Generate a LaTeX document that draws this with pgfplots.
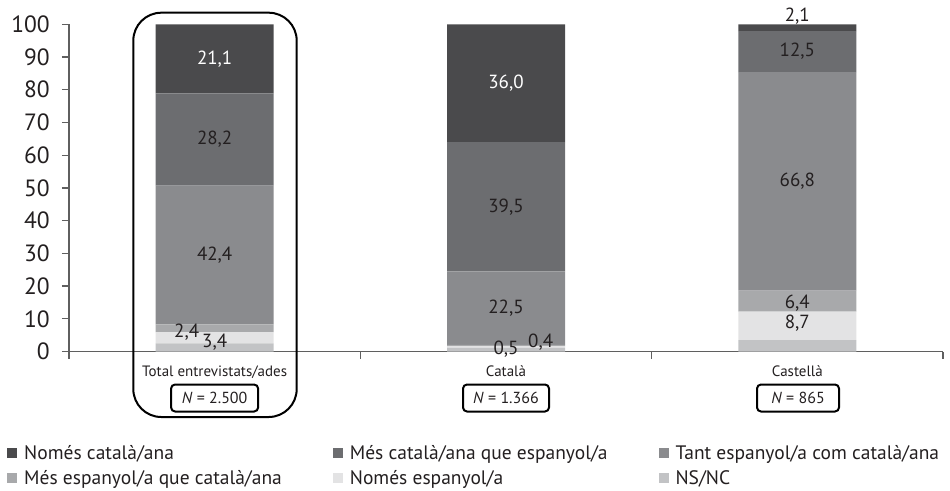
\documentclass[border=0pt]{standalone}
\usepackage{pgfplots}
\usepackage{pgfplotstable}
\pgfplotsset{compat=1.18}
\usepackage{fontspec}
\setmainfont{PT Sans}
\definecolor{c1}{HTML}{4A4A4C}
\definecolor{c2}{HTML}{6C6D70}
\definecolor{c3}{HTML}{8A8B8E}
\definecolor{c4}{HTML}{A8A9AB}
\definecolor{c5}{HTML}{E3E3E4}
\definecolor{c6}{HTML}{C2C3C5}
\definecolor{axgray}{HTML}{5F5F5F}
\definecolor{txt}{HTML}{231F20}

\pgfplotstableread{
x nsnc nomesesp mesesp tant mescat nomescat
0 2.5 3.4 2.4 42.4 28.2 21.1
1 1.1 0.5 0.4 22.5 39.5 36.0
2 3.5 8.7 6.4 66.8 12.5 2.1
}\datatable

\pgfplotstableread{
x y lab
0 89.45 21,1
1 82.0 36,0
}\whitelabels

\pgfplotstableread{
x y lab
0 64.8 28,2
0 29.5 42,4
-0.096 6.05 2,4
0 2.75 3,4
1 44.25 39,5
1 13.25 22,5
1 0.76 0,5
1.119 2.75 0,4
2 102.5 2,1
2 91.65 12,5
2 52.0 66,8
2 14.7 6,4
2 8.6 8,7
}\darklabels

\pgfplotsset{base/.style={
  at={(69pt,-351.5pt)}, anchor=south west, scale only axis,
  width=874pt, height=327.2pt,
  xmin=-0.5, xmax=2.5, ymin=0, ymax=100,
}}

\begin{document}
\begin{tikzpicture}
\path[use as bounding box] (0pt,0pt) rectangle (950pt,-490pt);
\begin{axis}[base,
  ybar stacked, bar width=118pt,
  axis x line*=bottom, axis y line*=left,
  axis line style={-, draw=axgray, line width=1.3pt},
  tick align=outside,
  major tick length=7pt,
  tick style={draw=axgray, line width=1.3pt},
  /pgf/number format/assume math mode=true,
  ytick={0,10,...,100},
  yticklabel style={font=\fontsize{23.5}{24}\selectfont, text=txt, inner sep=0pt, xshift=-12pt},
  xtick={-0.5,0.5,1.5,2.5},
  xticklabels={,,,},
  extra x ticks={0,1,2},
  extra x tick labels={Total entrevistats/ades, Català, Castellà},
  extra x tick style={major tick length=0pt},
  xticklabel style={font=\fontsize{15}{16}\selectfont, text=txt, inner sep=0pt, yshift=-14pt},
  reverse legend,
  legend columns=3,
  legend cell align=left,
  legend style={at={(-0.0709,-0.2800)}, anchor=north west, draw=none, fill=none,
    inner sep=0pt, font=\fontsize{19.5}{23}\selectfont, text=txt, row sep=5.5pt,
    /tikz/every even column/.append style={column sep=49pt},
    /tikz/every odd column/.append style={column sep=5pt}},
  legend image code/.code={\fill[#1] (0pt,-5pt) rectangle (10pt,5pt);},
]
\addplot[fill=c6, draw=none] table[x=x, y=nsnc] {\datatable};
\addlegendentry{NS/NC}
\addplot[fill=c5, draw=none] table[x=x, y=nomesesp] {\datatable};
\addlegendentry{Només espanyol/a}
\addplot[fill=c4, draw=none] table[x=x, y=mesesp] {\datatable};
\addlegendentry{Més espanyol/a que català/ana}
\addplot[fill=c3, draw=none] table[x=x, y=tant] {\datatable};
\addlegendentry{Tant espanyol/a com català/ana}
\addplot[fill=c2, draw=none] table[x=x, y=mescat] {\datatable};
\addlegendentry{Més català/ana que espanyol/a}
\addplot[fill=c1, draw=none] table[x=x, y=nomescat] {\datatable};
\addlegendentry{Només català/ana}
\end{axis}
\begin{axis}[base, hide axis, clip=false]
\addplot[draw=none, mark=none, nodes near coords, point meta=explicit symbolic,
  every node near coord/.append style={anchor=center, font=\fontsize{19}{19}\selectfont, text=white, inner sep=0pt}]
  table[x=x, y=y, meta=lab] {\whitelabels};
\addplot[draw=none, mark=none, nodes near coords, point meta=explicit symbolic,
  every node near coord/.append style={anchor=center, font=\fontsize{19}{19}\selectfont, text=txt, inner sep=0pt}]
  table[x=x, y=y, meta=lab] {\darklabels};
\end{axis}
\draw[line width=2pt, rounded corners=28pt, draw=black] (133.3pt,-12.7pt) rectangle (296.7pt,-417pt);
\node[draw=black, line width=2pt, rounded corners=4pt, minimum width=87pt, minimum height=27pt, inner sep=0pt,
  font=\fontsize{16}{16}\selectfont, text=txt] at (214.6pt,-398pt) {\textit{N} = 2.500};
\node[draw=black, line width=2pt, rounded corners=4pt, minimum width=86pt, minimum height=27pt, inner sep=0pt,
  font=\fontsize{16}{16}\selectfont, text=txt] at (506pt,-398pt) {\textit{N} = 1.366};
\node[draw=black, line width=2pt, rounded corners=4pt, minimum width=82pt, minimum height=27pt, inner sep=0pt,
  font=\fontsize{16}{16}\selectfont, text=txt] at (798pt,-398pt) {\textit{N} = 865};
\end{tikzpicture}
\end{document}
